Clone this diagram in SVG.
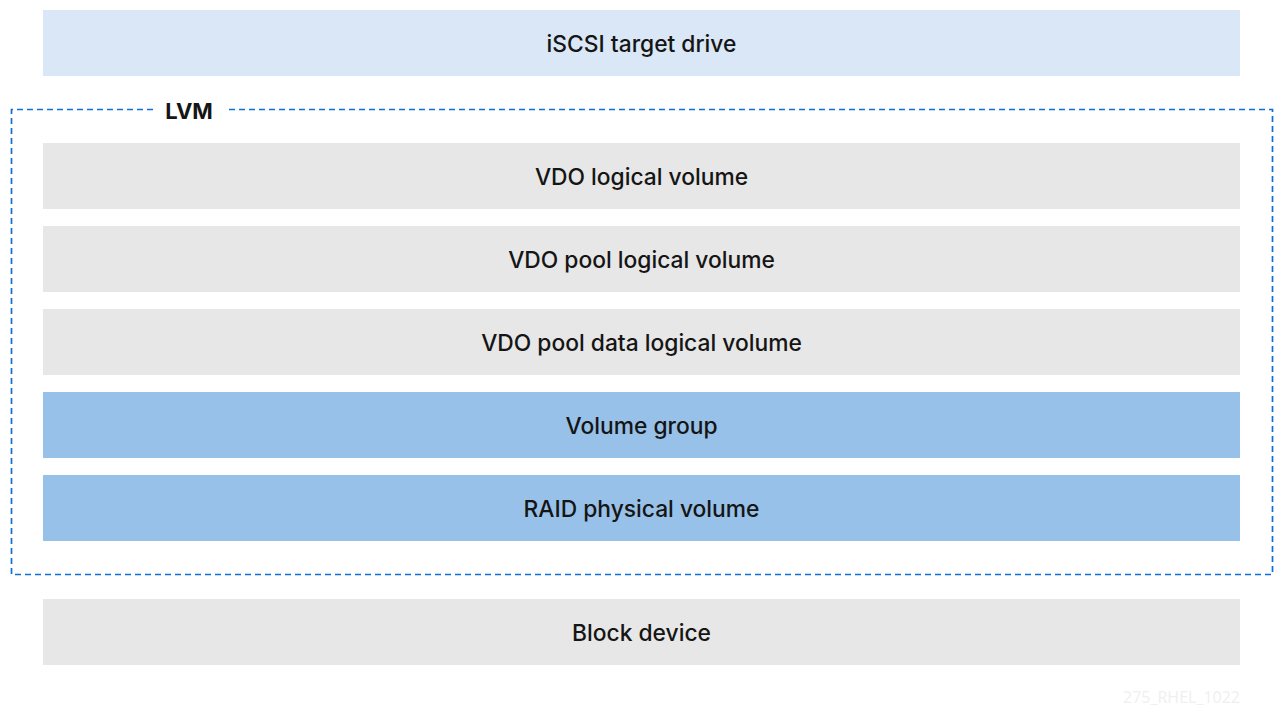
<svg xmlns="http://www.w3.org/2000/svg" width="1275" height="707" viewBox="0 0 1275 707">
<style>
.box{stroke:none}
.gray{fill:#e7e7e7}
.light{fill:#d9e7f6}
.blue{fill:#98c1e9}
.t{font-family:Inter,"Open Sans","Liberation Sans",sans-serif;font-size:22.8px;font-weight:500;fill:#151515;text-anchor:middle;dominant-baseline:central}
.lvm{fill:none;stroke:#0f6fd6;stroke-width:1.7;stroke-dasharray:6 4}
</style>
<rect width="1275" height="707" fill="#ffffff"/>
<g id="iscsi"><rect class="box light" x="43" y="10" width="1197" height="66"/><text class="t" x="641.5" y="43">iSCSI target drive</text></g>
<g id="lvm">
<path class="lvm" d="M153 109.5 H11.5 V574.5 H1272.5 V109.5 H226"/>
<text x="189" y="111" font-family="Inter,'Open Sans','Liberation Sans',sans-serif" font-size="22" font-weight="bold" fill="#151515" text-anchor="middle" dominant-baseline="central">LVM</text>
</g>
<g id="vdo-lv"><rect class="box gray" x="43" y="143" width="1197" height="66"/><text class="t" x="641.5" y="176">VDO logical volume</text></g>
<g id="vdo-pool"><rect class="box gray" x="43" y="226" width="1197" height="66"/><text class="t" x="641.5" y="259">VDO pool logical volume</text></g>
<g id="vdo-pool-data"><rect class="box gray" x="43" y="309" width="1197" height="66"/><text class="t" x="641.5" y="342">VDO pool data logical volume</text></g>
<g id="vg"><rect class="box blue" x="43" y="392" width="1197" height="66"/><text class="t" x="641.5" y="425">Volume group</text></g>
<g id="raid"><rect class="box blue" x="43" y="475" width="1197" height="66"/><text class="t" x="641.5" y="508">RAID physical volume</text></g>
<g id="block"><rect class="box gray" x="43" y="599" width="1197" height="66"/><text class="t" x="641.5" y="632">Block device</text></g>
<text x="1240" y="703" font-family="'Open Sans','Liberation Sans',sans-serif" font-size="16" fill="#efefef" text-anchor="end">275_RHEL_1022</text>
<g id="connectors"/>
</svg>
